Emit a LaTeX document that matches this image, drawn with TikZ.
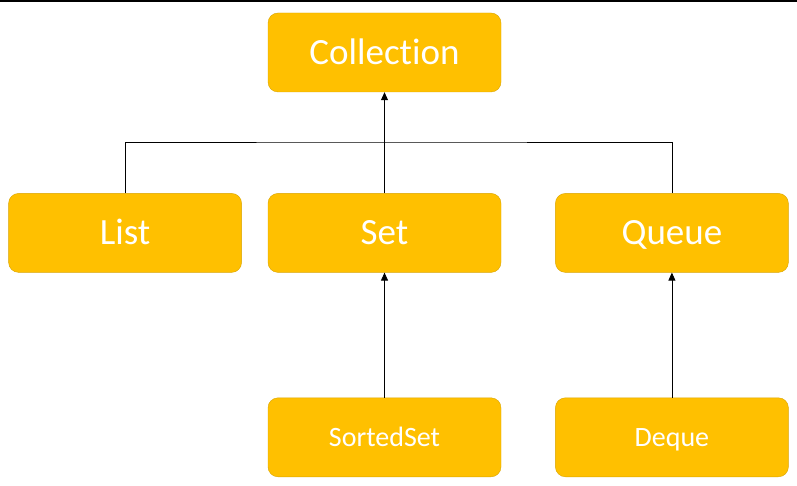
\documentclass[tikz,border=0pt]{standalone}
\usepackage{fontspec}
\setmainfont[Ligatures=NoCommon]{Carlito}
\usetikzlibrary{positioning, arrows.meta}
\definecolor{boxfill}{HTML}{FFC000}
\definecolor{boxline}{HTML}{D9A400}

\begin{document}
\begin{tikzpicture}[
        x=1pt, y=-1pt,
        every node/.style={
            draw=boxline, fill=boxfill, rounded corners=10pt,
            text=white, font=\fontsize{37}{40}\selectfont,
            minimum width=233pt, minimum height=79pt,
            text height=24pt, text depth=0pt, % center on cap height
            inner sep=0pt
        },
        small/.style={font=\fontsize{28}{32}\selectfont, text height=18pt}, % lower row has smaller text
        link/.style={-{Triangle[length=8pt,width=7pt]}, line width=0.8pt}
      ]
        \useasboundingbox (0,0) rectangle (797,486);
        \draw[line width=2pt] (0,1) -- (797,1); % frame edge at the top

        \node (coll) at (384.5,52.5) {Collection};
        \node (set) [below=101pt of coll] {Set};
        \node (list) [left=26pt of set] {List};
        \node (queue) [right=54pt of set] {Queue};
        \node[small] (sorted) [below=125pt of set] {SortedSet};
        \node[small] (deque) [below=125pt of queue] {Deque};

        \coordinate (bus) at (384.5,142);
        \draw[line width=0.8pt] (list.north) |- (bus) -| (queue.north);
        \draw[link] (set.north) -- (coll.south);
        \draw[link] (sorted.north) -- (set.south);
        \draw[link] (deque.north) -- (queue.south);
      \end{tikzpicture}
\end{document}
